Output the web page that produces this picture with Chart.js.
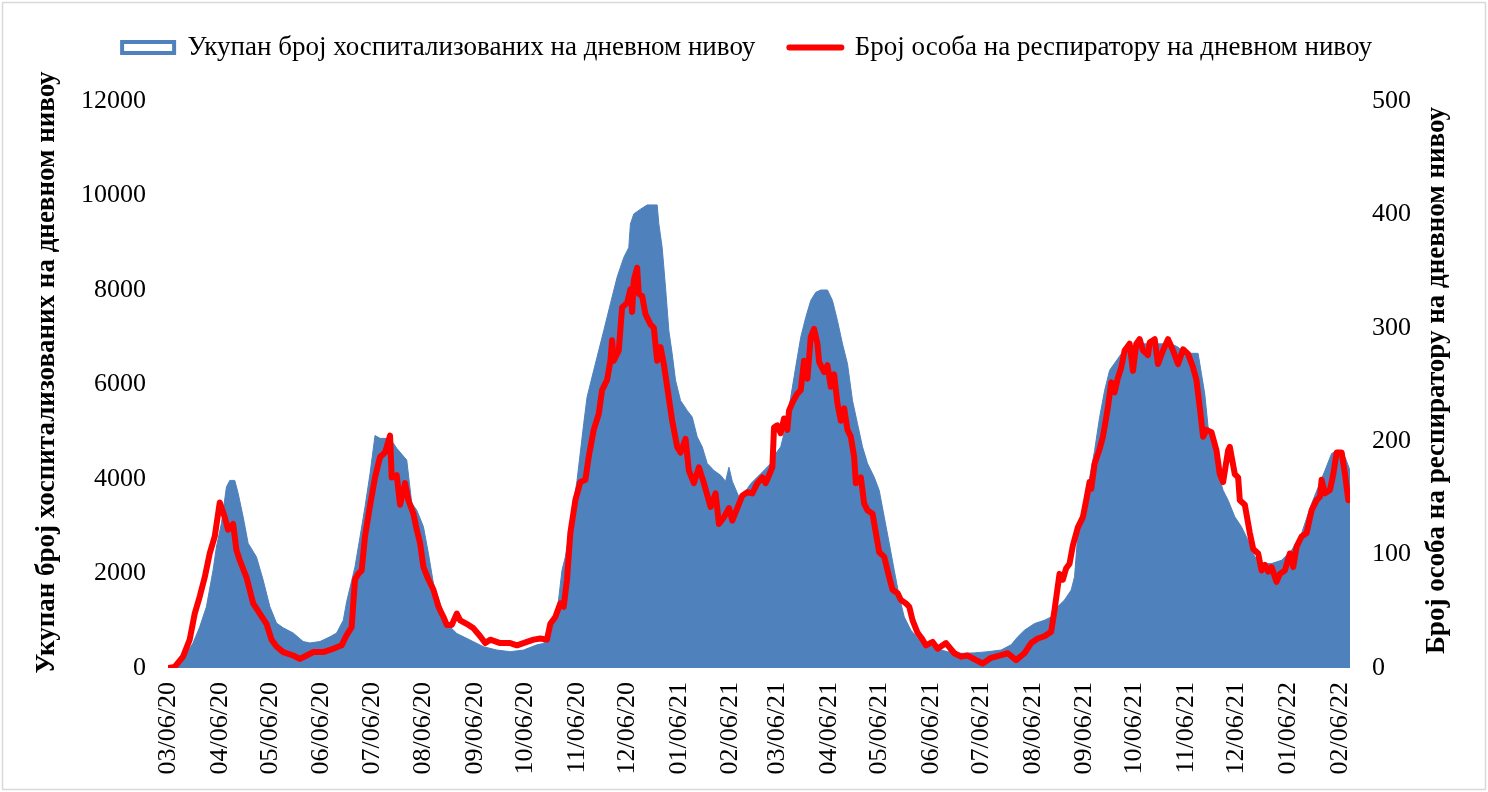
<!DOCTYPE html>
<html>
<head>
<meta charset="utf-8">
<script src="https://cdn.jsdelivr.net/npm/chart.js@4"></script>
<style>
  html, body { margin: 0; padding: 0; background: #fff; }
  canvas { display: block; }
</style>
</head>
<body>
<canvas id="chart" width="1488" height="792"></canvas>
<script>
// days are counted from 03/06/20 (06 March 2020)
const tickLabels = ['03/06/20', '04/06/20', '05/06/20', '06/06/20', '07/06/20', '08/06/20', '09/06/20', '10/06/20',
  '11/06/20', '12/06/20', '01/06/21', '02/06/21', '03/06/21', '04/06/21', '05/06/21', '06/06/21', '07/06/21',
  '08/06/21', '09/06/21', '10/06/21', '11/06/21', '12/06/21', '01/06/22', '02/06/22'];

const hospLabel = 'Укупан број хоспитализованих на дневном нивоу';
const ventLabel = 'Број особа на респиратору на дневном нивоу';

const hospDay = [0, 4, 9, 15, 19, 23, 27, 29, 32, 35, 37, 40, 42, 45, 48, 53, 57, 61, 65, 69, 75, 81, 85, 91, 97, 101,
  105, 107, 112, 115, 118, 121, 124, 127, 133, 137, 143, 146, 149, 153, 156, 159, 163, 167, 173, 181, 189, 197, 205,
  213, 221, 225, 229, 233, 236, 238, 242, 245, 249, 251, 254, 257, 261, 265, 269, 273, 276, 277, 279, 283, 287, 293,
  294, 296, 298, 300, 302, 304, 307, 311, 314, 317, 320, 323, 327, 331, 334, 336, 338, 342, 345, 349, 353, 357, 361,
  364, 367, 370, 373, 376, 379, 382, 385, 388, 391, 395, 398, 401, 404, 407, 410, 413, 416, 419, 423, 426, 429, 432,
  435, 438, 441, 445, 449, 455, 463, 467, 475, 483, 491, 499, 505, 509, 513, 519, 525, 529, 533, 537, 541, 543, 545,
  548, 551, 555, 558, 561, 564, 567, 571, 575, 581, 597, 601, 605, 609, 617, 619, 621, 623, 626, 629, 632, 635, 639,
  643, 647, 651, 656, 661, 667, 673, 679, 685, 689, 693, 697, 701, 705, 708];
const hospCount = [0, 30, 170, 530, 870, 1295, 2070, 2560, 3060, 3830, 3970, 3970, 3700, 3200, 2640, 2350, 1860, 1300,
  950, 850, 740, 560, 530, 560, 660, 740, 1010, 1400, 2140, 2770, 3410, 4110, 4920, 4860, 4860, 4650, 4400, 3490, 3340,
  2990, 2420, 1790, 1370, 940, 730, 590, 450, 380, 345, 380, 490, 520, 850, 1160, 2070, 2350, 3270, 3970, 5170, 5730,
  6160, 6580, 7140, 7710, 8270, 8690, 8900, 9400, 9610, 9710, 9800, 9800, 9400, 8900, 8060, 7140, 6650, 6090, 5660,
  5450, 5310, 4890, 4680, 4330, 4180, 4080, 3950, 4250, 3950, 3620, 3690, 3900, 4040, 4180, 4330, 4540, 4680, 5100,
  5730, 6370, 7000, 7420, 7780, 7950, 8000, 8000, 7780, 7350, 6860, 6440, 5660, 5170, 4680, 4330, 4040, 3760, 3200,
  2640, 2070, 1510, 1080, 800, 630, 490, 380, 345, 310, 320, 345, 380, 490, 660, 800, 940, 1010, 1080, 1300, 1440,
  1650, 1930, 2850, 3100, 3830, 4600, 5300, 5870, 6300, 6450, 6650, 6790, 6860, 6860, 6860, 6790, 6660, 6660, 6230,
  5800, 5100, 4820, 4110, 3760, 3550, 3200, 2990, 2700, 2350, 2210, 2210, 2280, 2490, 2850, 3480, 3830, 4180, 4540,
  4610, 4470, 4180];

const ventDay = [0, 4, 9, 13, 16, 19, 22, 25, 28, 31, 34, 36, 39, 41, 43, 47, 51, 55, 59, 62, 65, 69, 75, 79, 83, 87,
  93, 99, 104, 107, 110, 112, 114, 116, 118, 121, 124, 127, 130, 133, 134, 137, 139, 142, 144, 147, 149, 151, 153, 156,
  159, 162, 165, 167, 170, 173, 175, 180, 183, 187, 190, 193, 199, 205, 209, 215, 219, 223, 227, 229, 232, 235, 237,
  239, 241, 244, 247, 250, 252, 255, 258, 260, 263, 265, 266, 267, 270, 272, 275, 277, 278, 279, 281, 282, 284, 286,
  289, 291, 293, 295, 297, 299, 302, 305, 307, 310, 312, 315, 318, 321, 325, 328, 330, 333, 336, 338, 341, 344, 347,
  350, 353, 356, 358, 360, 362, 363, 365, 367, 369, 371, 372, 374, 377, 379, 381, 383, 385, 387, 389, 390, 393, 395,
  397, 399, 401, 403, 405, 407, 409, 411, 412, 415, 417, 419, 422, 424, 426, 429, 432, 434, 437, 439, 442, 444, 446,
  449, 452, 454, 458, 461, 466, 471, 475, 479, 484, 488, 493, 498, 503, 508, 513, 517, 521, 525, 529, 531, 534, 536,
  538, 540, 542, 545, 548, 550, 552, 553, 555, 558, 560, 562, 563, 565, 567, 569, 571, 573, 576, 578, 580, 582, 584,
  587, 588, 591, 593, 596, 599, 602, 605, 608, 611, 614, 616, 618, 620, 622, 625, 628, 630, 632, 635, 636, 639, 641,
  642, 645, 648, 650, 653, 655, 657, 659, 661, 664, 666, 669, 672, 674, 676, 679, 682, 685, 688, 690, 691, 693, 696,
  698, 700, 703, 705, 707];
const ventCount = [0, 1, 10, 25, 48, 63, 80, 101, 116, 146, 133, 122, 127, 104, 95, 80, 57, 48, 39, 25, 19, 14, 11, 8,
  11, 14, 14, 17, 20, 29, 36, 78, 83, 86, 116, 143, 168, 186, 190, 205, 168, 170, 144, 163, 148, 136, 122, 110, 89, 78,
  69, 54, 45, 38, 38, 48, 42, 38, 35, 28, 22, 25, 22, 22, 20, 23, 25, 26, 25, 39, 45, 57, 54, 78, 119, 148, 164, 166,
  186, 210, 224, 245, 254, 271, 289, 271, 280, 318, 322, 334, 314, 342, 353, 330, 328, 312, 303, 300, 271, 283, 268,
  248, 218, 195, 190, 202, 174, 163, 177, 163, 142, 154, 127, 133, 141, 130, 141, 152, 155, 154, 163, 168, 163, 170,
  177, 212, 214, 207, 220, 210, 227, 234, 242, 245, 271, 255, 292, 299, 286, 270, 261, 267, 248, 259, 233, 218, 229,
  210, 204, 186, 163, 168, 145, 139, 136, 119, 102, 98, 80, 69, 66, 60, 57, 54, 42, 31, 25, 20, 23, 17, 22, 13, 10, 11,
  7, 4, 9, 11, 13, 7, 13, 22, 26, 28, 32, 51, 83, 78, 88, 92, 108, 124, 133, 148, 164, 158, 180, 193, 204, 221, 230,
  252, 243, 256, 265, 280, 286, 262, 286, 290, 280, 276, 287, 290, 268, 280, 290, 280, 268, 281, 277, 265, 254, 230,
  204, 210, 208, 192, 171, 164, 192, 195, 171, 168, 148, 144, 119, 105, 101, 86, 91, 85, 89, 76, 83, 86, 101, 89, 107,
  116, 119, 139, 148, 151, 166, 154, 157, 171, 190, 190, 171, 148];

const hospColor = '#4f81bd';
const ventColor = '#ff0000';
const serif = '"Liberation Serif", "Times New Roman", serif';

function dayOf(label) {
  const [m, d, y] = label.split('/').map(Number);
  return Math.round((Date.UTC(2000 + y, m - 1, d) - Date.UTC(2020, 2, 6)) / 86400000);
}

const frame = {
  id: 'frame',
  beforeDraw(chart) {
    const ctx = chart.ctx;
    ctx.save();
    ctx.fillStyle = '#fff';
    ctx.fillRect(0, 0, chart.width, chart.height);
    ctx.strokeStyle = '#d9d9d9';
    ctx.lineWidth = 1.5;
    ctx.strokeRect(2.5, 2.5, chart.width - 5, chart.height - 5);
    ctx.restore();
  }
};

// both axis titles read bottom-to-top (Chart.js turns a right title the other way)
const axisTitles = {
  id: 'axisTitles',
  afterDraw(chart) {
    const {ctx, chartArea} = chart;
    const mid = (chartArea.top + chartArea.bottom) / 2;
    const put = (text, x, y) => {
      ctx.save();
      ctx.translate(x, y);
      ctx.rotate(-Math.PI / 2);
      ctx.fillText(text, 0, 0);
      ctx.restore();
    };
    ctx.save();
    ctx.font = 'bold 27px ' + serif;
    ctx.fillStyle = '#000';
    ctx.textAlign = 'center';
    ctx.textBaseline = 'middle';
    put(hospLabel, 47, mid - 12);
    put(ventLabel, chart.width - 51, mid - 4);
    ctx.restore();
  }
};

new Chart(document.getElementById('chart'), {
  type: 'line',
  data: {
    datasets: [{
      label: hospLabel,
      data: hospDay.map((d, i) => ({x: d, y: hospCount[i]})),
      yAxisID: 'y',
      order: 1,
      fill: 'origin',
      backgroundColor: hospColor,
      borderColor: hospColor,
      borderWidth: 1,
      pointRadius: 0,
      tension: 0
    }, {
      label: ventLabel,
      data: ventDay.map((d, i) => ({x: d, y: ventCount[i]})),
      yAxisID: 'y1',
      order: 0,
      fill: false,
      borderColor: ventColor,
      borderWidth: 6,
      borderJoinStyle: 'round',
      borderCapStyle: 'round',
      pointRadius: 0,
      tension: 0
    }]
  },
  options: {
    responsive: false,
    animation: false,
    devicePixelRatio: 1,
    layout: {padding: {left: 37, right: 31, top: 0, bottom: 0}},
    plugins: {
      tooltip: {enabled: false},
      // empty title only keeps room between the legend and the plot
      title: {display: true, text: '', weight: 500, padding: 0, font: {size: 25}},
      legend: {
        position: 'top',
        labels: {
          font: {family: serif, size: 27},
          color: '#000',
          padding: 34,
          usePointStyle: true,
          pointStyleWidth: 52,
          boxHeight: 11,
          generateLabels: chart => chart.data.datasets.map((ds, i) => ({
            text: ds.label,
            datasetIndex: i,
            fontColor: '#000',
            pointStyle: i === 0 ? 'rect' : 'line',
            fillStyle: i === 0 ? '#fff' : ventColor,
            strokeStyle: i === 0 ? hospColor : ventColor,
            lineWidth: i === 0 ? 4 : 6,
            lineCap: 'round'
          }))
        }
      }
    },
    scales: {
      x: {
        type: 'linear',
        min: 0,
        max: 708,
        grid: {display: false, drawTicks: false},
        border: {display: false},
        afterBuildTicks: s => { s.ticks = tickLabels.map(l => ({value: dayOf(l)})); },
        afterFit: s => { s.height = 124; },
        ticks: {
          autoSkip: false,
          minRotation: 90,
          maxRotation: 90,
          padding: 14,
          color: '#000',
          font: {family: serif, size: 26},
          callback: (v, i) => tickLabels[i]
        }
      },
      y: {
        position: 'left',
        min: 0,
        max: 12000,
        grid: {display: false, drawTicks: false},
        border: {display: false},
        afterFit: s => { s.width = 131; },
        ticks: {stepSize: 2000, padding: 22, color: '#000', font: {family: serif, size: 26}, callback: v => String(v)}
      },
      y1: {
        position: 'right',
        min: 0,
        max: 500,
        grid: {display: false, drawTicks: false},
        border: {display: false},
        afterFit: s => { s.width = 107; },
        ticks: {stepSize: 100, padding: 22, color: '#000', font: {family: serif, size: 26}, callback: v => String(v)}
      }
    }
  },
  plugins: [frame, axisTitles]
});
</script>
</body>
</html>
